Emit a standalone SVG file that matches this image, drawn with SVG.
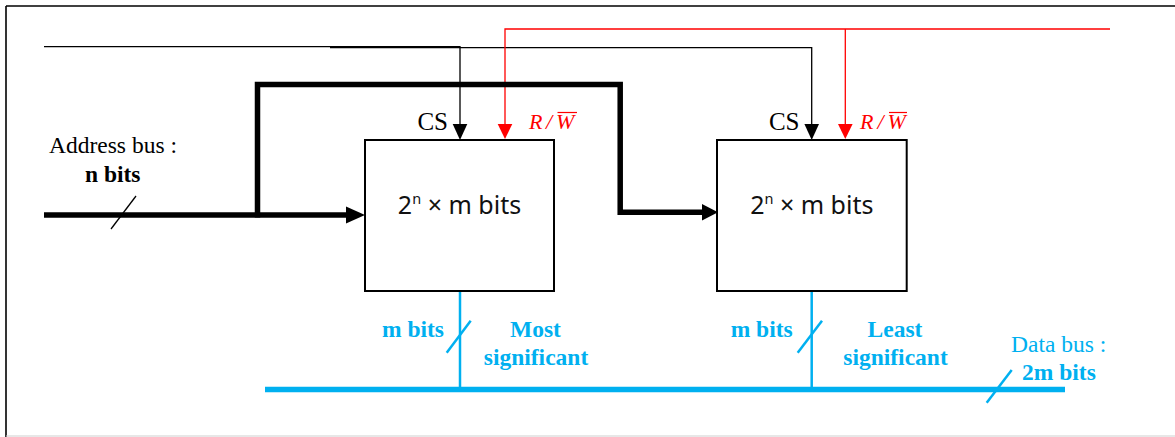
<svg xmlns="http://www.w3.org/2000/svg" width="1175" height="437" viewBox="0 0 1175 437">
<style>
.serif{font-family:"Liberation Serif","Times New Roman",serif;font-size:23.5px;}
.cs{font-family:"Liberation Serif","Times New Roman",serif;font-size:25px;}
.bold{font-weight:bold;}
.blue{fill:#00B0F0;}
.box{fill:#fff;stroke:#000;stroke-width:2;}
.boxtxt{font-family:"Noto Sans","Open Sans",sans-serif;font-size:25px;fill:#111;}
.rw{font-family:"Liberation Serif","Times New Roman",serif;font-style:italic;font-size:22px;fill:#FF0000;}
.thin{fill:none;stroke:#000;stroke-width:1.3;}
.red{fill:none;stroke:#FF0000;stroke-width:1.3;}
.thick{fill:none;stroke:#000;stroke-width:5.5;stroke-linejoin:miter;}
.dbus{fill:none;stroke:#00B0F0;stroke-width:2.5;}
</style>
<g id="frame">
<line x1="6" y1="6" x2="1175" y2="6" stroke="#000" stroke-width="1.6"/>
<line x1="6" y1="6" x2="6" y2="437" stroke="#000" stroke-width="1.6"/>
<line x1="6" y1="436" x2="1175" y2="436" stroke="#d0d0d0" stroke-width="1.2"/>
</g>
<g id="connectors">
<path class="thin" d="M44,46.7 H460 V126"/>
<polygon points="452.7,124 467.3,124 460,140" fill="#000"/>
<path class="thin" d="M330,47.6 H811.7 V126"/>
<polygon points="804.4,124 819,124 811.7,140" fill="#000"/>
<path class="red" d="M1110,29 H505 V126"/>
<polygon points="497.7,124 512.3,124 505,139" fill="#FF0000"/>
<path class="red" d="M845.3,29 V126"/>
<polygon points="838,124 852.6,124 845.3,139" fill="#FF0000"/>
<path class="thick" d="M44,215 H348"/>
<polygon points="346,206.5 365,215 346,223.5" fill="#000"/>
<path class="thick" d="M257.5,217.5 V84.5 H620.2 V212.3 H704"/>
<polygon points="702,204 718,212.3 702,220.6" fill="#000"/>
<line x1="111" y1="229" x2="136" y2="196" stroke="#000" stroke-width="1.3"/>
<line x1="265" y1="389.5" x2="1065" y2="389.5" stroke="#00B0F0" stroke-width="5.5"/>
<line class="dbus" x1="460" y1="291" x2="460" y2="389"/>
<line class="dbus" x1="811.7" y1="291" x2="811.7" y2="389"/>
<line class="dbus" x1="446.7" y1="352.7" x2="470.7" y2="320.7"/>
<line class="dbus" x1="797.7" y1="352.7" x2="822" y2="320.7"/>
<line class="dbus" x1="986.7" y1="402.7" x2="1011.7" y2="370"/>
</g>
<g id="mem1">
<rect class="box" x="365" y="140" width="189" height="151"/>
<text class="boxtxt" x="459.5" y="213.5" text-anchor="middle">2<tspan font-size="14.5" dy="-9.5">n</tspan><tspan dy="9.5"> × m bits</tspan></text>
<text class="cs" x="448" y="130" text-anchor="end">CS</text>
<text class="rw" x="529" y="128.5">R</text>
<text class="rw" x="546" y="128.5">/</text>
<text class="rw" x="556" y="128.5">W</text>
<line x1="557.5" y1="112.5" x2="577" y2="112.5" stroke="#FF0000" stroke-width="1.2"/>
</g>
<g id="mem2">
<rect class="box" x="717" y="140" width="189.7" height="151"/>
<text class="boxtxt" x="811.8" y="213.5" text-anchor="middle">2<tspan font-size="14.5" dy="-9.5">n</tspan><tspan dy="9.5"> × m bits</tspan></text>
<text class="cs" x="799.5" y="130" text-anchor="end">CS</text>
<text class="rw" x="860" y="128.5">R</text>
<text class="rw" x="877.5" y="128.5">/</text>
<text class="rw" x="887.5" y="128.5">W</text>
<line x1="889" y1="112.5" x2="907" y2="112.5" stroke="#FF0000" stroke-width="1.2"/>
</g>
<g id="address-label">
<text class="serif" x="49" y="153.3">Address bus :</text>
<text class="serif bold" x="85" y="181.7">n bits</text>
</g>
<g id="data-labels">
<text class="serif bold blue" x="444" y="336.7" text-anchor="end">m bits</text>
<text class="serif bold blue" x="535.5" y="336.7" text-anchor="middle">Most</text>
<text class="serif bold blue" x="536" y="365" text-anchor="middle">significant</text>
<text class="serif bold blue" x="792.7" y="336.7" text-anchor="end">m bits</text>
<text class="serif bold blue" x="895" y="336.7" text-anchor="middle">Least</text>
<text class="serif bold blue" x="895.5" y="365" text-anchor="middle">significant</text>
<text class="serif blue" x="1011" y="352">Data bus :</text>
<text class="serif bold blue" x="1022" y="380">2m bits</text>
</g>
</svg>
